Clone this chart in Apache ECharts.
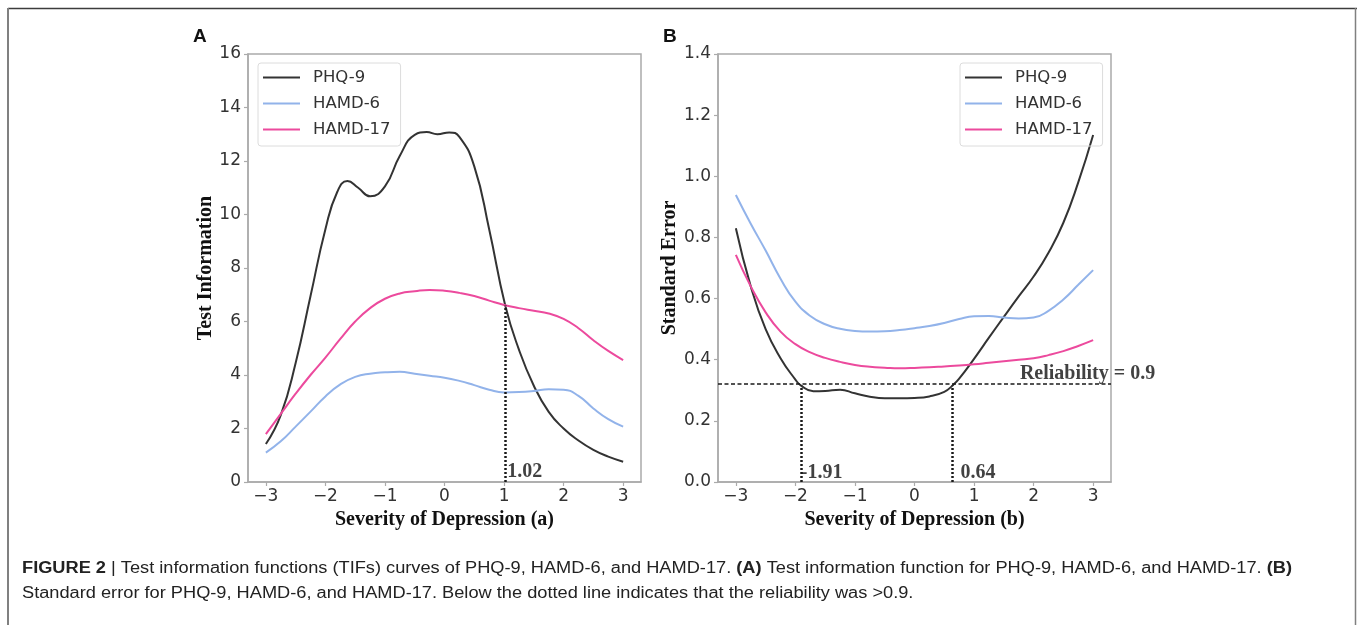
<!DOCTYPE html>
<html><head><meta charset="utf-8">
<script src="https://cdn.jsdelivr.net/npm/echarts@6/dist/echarts.min.js"></script>
<style>html,body{margin:0;padding:0;background:#fff}#c{width:1357px;height:625px}</style>
</head><body><div id="c"></div>
<script>
// ---------- data ----------
const seriesNames = ['PHQ-9', 'HAMD-6', 'HAMD-17'];
const xTicks = [-3, -2, -1, 0, 1, 2, 3];
const theta = [-3, -2.75, -2.5, -2.25, -2, -1.75, -1.5, -1.25, -1, -0.75, -0.5, -0.25, 0, 0.25, 0.5, 0.75, 1, 1.25, 1.5, 1.75, 2, 2.25, 2.5, 2.75, 3];

// Panel A: test information
const phqAx = [-3, -2.75, -2.5, -2.25, -2, -1.8, -1.63, -1.45, -1.25, -1, -0.75, -0.5, -0.3, -0.12, 0.08, 0.25, 0.5, 0.75, 1.02, 1.25, 1.5, 1.75, 2, 2.25, 2.5, 2.75, 3];
const phqAy = [1.42, 2.5, 4.45, 6.95, 9.45, 10.85, 11.25, 11.0, 10.68, 11.05, 12.2, 12.98, 13.08, 13.0, 13.07, 12.9, 11.8, 9.45, 6.6, 4.95, 3.6, 2.62, 2.0, 1.55, 1.2, 0.95, 0.76];
const hamd6A = [1.10, 1.52, 2.07, 2.63, 3.2, 3.65, 3.93, 4.05, 4.1, 4.12, 4.05, 3.97, 3.9, 3.78, 3.62, 3.45, 3.35, 3.36, 3.4, 3.47, 3.45, 3.22, 2.75, 2.35, 2.07];
const hamd17A = [1.79, 2.55, 3.3, 4.0, 4.65, 5.35, 6.0, 6.5, 6.85, 7.05, 7.13, 7.18, 7.15, 7.07, 6.95, 6.78, 6.62, 6.5, 6.4, 6.3, 6.1, 5.75, 5.3, 4.9, 4.56];
const cutA = [{ x: 1.02, top: 6.6, label: '1.02' }];

// Panel B: standard error
const phqBx = [-3, -2.75, -2.5, -2.25, -2, -1.91, -1.7, -1.5, -1.25, -1, -0.75, -0.5, -0.25, 0, 0.25, 0.5, 0.64, 0.75, 1, 1.25, 1.5, 1.75, 2, 2.25, 2.5, 2.75, 3];
const phqBy = [0.83, 0.64, 0.5, 0.405, 0.335, 0.316, 0.297, 0.298, 0.302, 0.29, 0.279, 0.274, 0.274, 0.275, 0.28, 0.295, 0.316, 0.338, 0.403, 0.472, 0.54, 0.607, 0.672, 0.75, 0.848, 0.98, 1.135];
const hamd6B = [0.939, 0.845, 0.757, 0.665, 0.59, 0.543, 0.516, 0.501, 0.494, 0.492, 0.493, 0.497, 0.503, 0.51, 0.52, 0.533, 0.542, 0.543, 0.538, 0.535, 0.538, 0.56, 0.597, 0.645, 0.693];
const hamd17B = [0.743, 0.64, 0.555, 0.492, 0.451, 0.424, 0.406, 0.393, 0.383, 0.377, 0.374, 0.372, 0.373, 0.375, 0.378, 0.381, 0.385, 0.39, 0.395, 0.4, 0.405, 0.415, 0.428, 0.445, 0.464];
const reliabilitySE = 0.316;
const reliabilityLabel = 'Reliability = 0.9';
const reliabilityLabelX = 1.77;
const cutB = [{ x: -1.91, label: '-1.91' }, { x: 0.64, label: '0.64' }];

const axisTitles = {
  xA: 'Severity of Depression (a)', yA: 'Test Information',
  xB: 'Severity of Depression (b)', yB: 'Standard Error'
};
const captionLine1 = [['b', 'FIGURE 2'], ['n', ' | Test information functions (TIFs) curves of PHQ-9, HAMD-6, and HAMD-17. '], ['b', '(A)'], ['n', ' Test information function for PHQ-9, HAMD-6, and HAMD-17. '], ['b', '(B)']];
const captionLine2 = [['n', 'Standard error for PHQ-9, HAMD-6, and HAMD-17. Below the dotted line indicates that the reliability was >0.9.']];

// ---------- styling ----------
const colors = { 'PHQ-9': '#333333', 'HAMD-6': '#92b3ea', 'HAMD-17': '#ec4a9d' };
const spine = '#ababab';
const serifBold = { fontFamily: 'Liberation Serif', fontWeight: 'bold', fontSize: 20, color: '#111' };
const tickFont = { fontFamily: 'DejaVu Sans', fontSize: 17, color: '#333' };
const fmtX = v => (v < 0 ? '\u2212' + Math.abs(v) : String(v));

const zip = (xs, ys) => xs.map((x, i) => [x, ys[i]]);

function xAxisCfg(gi, name) {
  return {
    type: 'value', gridIndex: gi, min: -3.3, max: 3.3,
    splitLine: { show: false },
    axisLine: { show: true, onZero: false, lineStyle: { color: spine, width: 1.5 } },
    axisTick: { show: true, length: 4, lineStyle: { color: spine, width: 1.2 }, customValues: xTicks },
    axisLabel: { ...tickFont, margin: 6, formatter: fmtX, customValues: xTicks },
    name: name, nameLocation: 'middle', nameGap: 25, nameTextStyle: serifBold
  };
}
function yAxisCfg(gi, name, max, interval, fmt) {
  return {
    type: 'value', gridIndex: gi, min: 0, max: max, interval: interval,
    splitLine: { show: false },
    axisLine: { show: true, onZero: false, lineStyle: { color: spine, width: 1.5 } },
    axisTick: { show: true, length: 4, lineStyle: { color: spine, width: 1.2 } },
    axisLabel: { ...tickFont, margin: 7, formatter: fmt },
    name: name, nameLocation: 'middle', nameRotate: 90, nameGap: 32, nameTextStyle: serifBold
  };
}
function lineSeries(name, gi, data, extra) {
  return Object.assign({
    type: 'line', name: name, xAxisIndex: gi, yAxisIndex: gi, data: data,
    showSymbol: false, symbol: 'none', smooth: 0.5, z: 3,
    lineStyle: { color: colors[name], width: 2 }, itemStyle: { color: colors[name] },
    emphasis: { disabled: true }
  }, extra || {});
}
const dotted = { color: '#1a1a1a', width: 2.5, type: [2, 2] };

const seriesA = [
  lineSeries('PHQ-9', 0, zip(phqAx, phqAy), {
    markLine: {
      silent: true, symbol: 'none', animation: false, label: { show: false },
      lineStyle: dotted,
      data: cutA.map(c => [{ coord: [c.x, 0] }, { coord: [c.x, c.top] }])
    }
  }),
  lineSeries('HAMD-6', 0, zip(theta, hamd6A)),
  lineSeries('HAMD-17', 0, zip(theta, hamd17A)),
  {
    type: 'scatter', xAxisIndex: 0, yAxisIndex: 0, symbolSize: 0, silent: true, z: 5,
    data: cutA.map(c => ({ value: [c.x, 0], label: { formatter: c.label, distance: 2 } })),
    label: { show: true, position: 'right', offset: [0, -10], ...serifBold }
  }
];
const seriesB = [
  lineSeries('PHQ-9', 1, zip(phqBx, phqBy), {
    markLine: {
      silent: true, symbol: 'none', animation: false, label: { show: false },
      data: [
        { yAxis: reliabilitySE, lineStyle: { color: '#1a1a1a', width: 1.5, type: [4, 2.5] } },
        ...cutB.map(c => [{ coord: [c.x, 0], lineStyle: dotted }, { coord: [c.x, reliabilitySE] }])
      ]
    }
  }),
  lineSeries('HAMD-6', 1, zip(theta, hamd6B)),
  lineSeries('HAMD-17', 1, zip(theta, hamd17B)),
  {
    type: 'scatter', xAxisIndex: 1, yAxisIndex: 1, symbolSize: 0, silent: true, z: 5,
    data: [
      ...cutB.map((c, i) => ({ value: [c.x, 0], label: { formatter: c.label, distance: i === 0 ? 0 : 8 } })),
      { value: [reliabilityLabelX, reliabilitySE], label: { formatter: reliabilityLabel, distance: 0, offset: [0, -12] } }
    ],
    label: { show: true, position: 'right', offset: [0, -9], ...serifBold }
  }
];

function legendCfg(left) {
  return {
    left: left, top: 63, orient: 'vertical', data: seriesNames,
    icon: 'rect', itemWidth: 37, itemHeight: 2, itemGap: 9,
    padding: [6, 10, 8, 5],
    backgroundColor: 'transparent', borderColor: '#dcdcdc', borderWidth: 1, borderRadius: 3,
    textStyle: { fontFamily: 'DejaVu Sans', fontSize: 16.5, lineHeight: 17, color: '#333', padding: [0, 0, 0, 8] },
    selectedMode: false
  };
}

// caption scaling (condensed look)
function measure(segs, size) {
  const ctx = document.createElement('canvas').getContext('2d');
  let w = 0;
  segs.forEach(s => {
    ctx.font = (s[0] === 'b' ? 'bold ' : '') + size + 'px "Liberation Sans"';
    w += ctx.measureText(s[1]).width;
  });
  return w;
}
const capSize = 16;
const capScale = 1270 / measure(captionLine1, capSize);
const richText = segs => segs.map(s => '{' + s[0] + '|' + s[1].replace(/[{}]/g, '') + '}').join('');
const capRich = {
  b: { fontFamily: 'Liberation Sans', fontWeight: 'bold', fontSize: capSize, fill: '#222' },
  n: { fontFamily: 'Liberation Sans', fontSize: capSize, fill: '#222' }
};

const option = {
  animation: false,
  backgroundColor: '#fff',
  grid: [
    { left: 248, top: 54, width: 393, height: 428, show: true, borderColor: spine, borderWidth: 1.5, backgroundColor: 'transparent' },
    { left: 718, top: 54, width: 393, height: 428, show: true, borderColor: spine, borderWidth: 1.5, backgroundColor: 'transparent' }
  ],
  xAxis: [xAxisCfg(0, axisTitles.xA), xAxisCfg(1, axisTitles.xB)],
  yAxis: [
    yAxisCfg(0, axisTitles.yA, 16, 2, v => String(v)),
    yAxisCfg(1, axisTitles.yB, 1.4, 0.2, v => v.toFixed(1))
  ],
  legend: [legendCfg(258), legendCfg(960)],
  series: [...seriesA, ...seriesB],
  graphic: [
    { type: 'line', shape: { x1: 8, y1: 8.5, x2: 1357, y2: 8.5 }, style: { stroke: '#3c3c3c', lineWidth: 1.5 }, silent: true },
    { type: 'line', shape: { x1: 8, y1: 8, x2: 8, y2: 625 }, style: { stroke: '#808080', lineWidth: 2 }, silent: true },
    { type: 'line', shape: { x1: 1355.5, y1: 8, x2: 1355.5, y2: 625 }, style: { stroke: '#808080', lineWidth: 1.5 }, silent: true },
    { type: 'text', x: 193, y: 37, style: { text: 'A', fontFamily: 'Liberation Sans', fontWeight: 'bold', fontSize: 19, fill: '#111', verticalAlign: 'middle' }, silent: true },
    { type: 'text', x: 663, y: 37, style: { text: 'B', fontFamily: 'Liberation Sans', fontWeight: 'bold', fontSize: 19, fill: '#111', verticalAlign: 'middle' }, silent: true },
    { type: 'text', x: 22, y: 569, scaleX: capScale, style: { text: richText(captionLine1), rich: capRich, verticalAlign: 'middle', fontSize: capSize }, silent: true },
    { type: 'text', x: 22, y: 594, scaleX: capScale, style: { text: richText(captionLine2), rich: capRich, verticalAlign: 'middle', fontSize: capSize }, silent: true }
  ]
};
const chart = echarts.init(document.getElementById('c'), null, { renderer: 'canvas' });
chart.setOption(option);
</script>
</body></html>
